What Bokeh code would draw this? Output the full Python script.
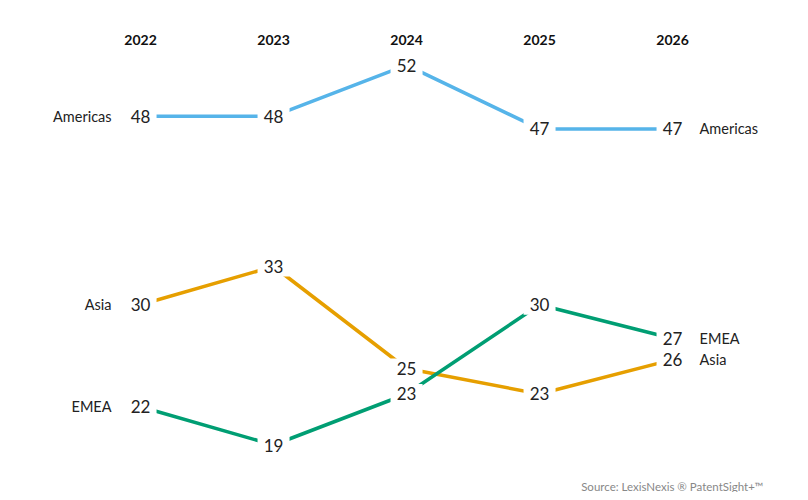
from bokeh.plotting import figure
from bokeh.models import Range1d, Label
from bokeh.embed import file_html
from bokeh.resources import INLINE
from bokeh.core.properties import value

# ---- data ----
years = [2022, 2023, 2024, 2025, 2026]
year_labels = ["2022", "2023", "2024", "2025", "2026"]

americas = [48, 48, 52, 47, 47]
asia = [30, 33, 25, 23, 25.7]
emea = [22, 19, 23, 30, 27.35]

americas_labels = ["48", "48", "52", "47", "47"]
asia_labels = ["30", "33", "25", "23", "26"]
emea_labels = ["22", "19", "23", "30", "27"]

series_names = ["Americas", "Asia", "EMEA"]
source_text = "Source: LexisNexis \u00ae PatentSight+\u2122"

# ---- styling ----
colors = {"Americas": "#56B4E9", "Asia": "#E69F00", "EMEA": "#009E73"}
FONT = value("Lato")

p = figure(width=800, height=492, output_backend="svg", toolbar_location=None,
           x_range=Range1d(2020.947, 2026.962), y_range=Range1d(15.275, 53.86),
           x_axis_location=None, y_axis_location=None, min_border=0)
p.extra_y_ranges = {"amer": Range1d(18.49, 57.07)}
p.outline_line_color = None
p.xgrid.visible = False
p.ygrid.visible = False
p.background_fill_color = "white"
p.border_fill_color = "white"

data = [
    ("Americas", americas, americas_labels, "amer"),
    ("Asia", asia, asia_labels, "default"),
    ("EMEA", emea, emea_labels, "default"),
]

# lines
for name, vals, labs, rng in data:
    p.line(years, vals, line_color=colors[name], line_width=3.5, y_range_name=rng)

# masks around value labels
for name, vals, labs, rng in data:
    p.rect(years, vals, width=32, height=20, width_units="screen", height_units="screen",
           fill_color="white", line_color=None, y_range_name=rng)

# value labels and series names
for name, vals, labs, rng in data:
    p.text(years, vals, text=labs, text_font=FONT, text_font_size="17px",
           text_color="#222222", text_align="center", text_baseline="middle",
           y_range_name=rng)
    p.text([years[0]], [vals[0]], text=[name], text_font=FONT, text_font_size="14.5px",
           text_color="#222222", text_align="right", text_baseline="middle",
           x_offset=-29, y_range_name=rng)
    p.text([years[-1]], [vals[-1]], text=[name], text_font=FONT, text_font_size="14.5px",
           text_color="#222222", text_align="left", text_baseline="middle",
           x_offset=27, y_range_name=rng)

# year headers
for yr, lab in zip(years, year_labels):
    p.add_layout(Label(x=yr, y=452.5, y_units="screen", text=lab, text_font="Lato",
                       text_font_size="14px", text_font_style="bold", text_color="#111111",
                       text_align="center", text_baseline="middle"))

p.add_layout(Label(x=763, y=6, x_units="screen", y_units="screen", text=source_text,
                   text_font="Lato", text_font_size="11.5px", text_color="#888888",
                   text_align="right", text_baseline="middle"))

open("out.html", "w").write(file_html(p, INLINE))
